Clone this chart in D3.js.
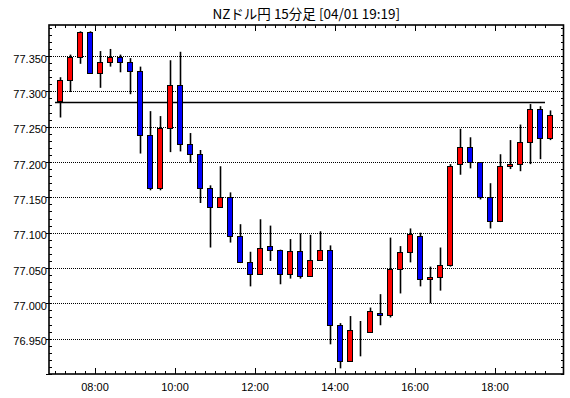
<!DOCTYPE html>
<html><head><meta charset="utf-8">
<script src="https://cdn.jsdelivr.net/npm/d3@7"></script>
<style>body{margin:0;background:#fff}svg{display:block}</style>
</head><body>
<script>
const title = "NZドル円 15分足 [04/01 19:19]";
const times = ["07:00","07:15","07:30","07:45","08:00","08:15","08:30","08:45","09:00","09:15",
"09:30","09:45","10:00","10:15","10:30","10:45","11:00","11:15","11:30","11:45",
"12:00","12:15","12:30","12:45","13:00","13:15","13:30","13:45","14:00","14:15",
"14:30","14:45","15:00","15:15","15:30","15:45","16:00","16:15","16:30","16:45",
"17:00","17:15","17:30","17:45","18:00","18:15","18:30","18:45","19:00","19:15"];
const open  = [77.286,77.316,77.348,77.384,77.326,77.341,77.348,77.342,77.329,77.238,
77.163,77.248,77.309,77.226,77.211,77.163,77.136,77.151,77.095,77.059,
77.041,77.081,77.075,77.042,77.074,77.038,77.062,77.075,76.969,76.919,
76.960,76.960,76.987,76.983,77.048,77.072,77.096,77.034,77.037,77.054,
77.197,77.221,77.200,77.150,77.116,77.194,77.197,77.229,77.275,77.234];
const high  = [77.320,77.352,77.385,77.385,77.357,77.360,77.352,77.347,77.335,77.272,
77.265,77.344,77.356,77.241,77.217,77.167,77.194,77.157,77.112,77.073,
77.119,77.110,77.076,77.091,77.099,77.097,77.102,77.082,76.972,76.982,
76.975,76.994,77.013,77.093,77.081,77.106,77.100,77.052,77.079,77.197,
77.247,77.235,77.200,77.170,77.211,77.231,77.253,77.282,77.279,77.273];
const low   = [77.263,77.299,77.339,77.325,77.305,77.335,77.327,77.296,77.212,77.160,
77.160,77.214,77.215,77.199,77.142,77.079,77.136,77.086,77.057,77.024,
77.041,77.060,77.027,77.035,77.035,77.038,77.062,76.942,76.908,76.918,
76.925,76.960,76.969,76.980,77.014,77.058,77.024,77.000,77.018,77.052,
77.182,77.191,77.147,77.106,77.115,77.190,77.187,77.197,77.204,77.231];
const close = [77.316,77.348,77.384,77.326,77.341,77.348,77.342,77.329,77.238,77.163,
77.248,77.309,77.226,77.211,77.163,77.136,77.151,77.095,77.059,77.041,
77.079,77.075,77.042,77.074,77.038,77.062,77.075,76.969,76.919,76.962,
76.960,76.989,76.983,77.048,77.072,77.098,77.034,77.037,77.054,77.195,
77.221,77.200,77.150,77.116,77.194,77.197,77.229,77.275,77.234,77.266];
const yTickLabels = ["76.950","77.000","77.050","77.100","77.150","77.200","77.250","77.300","77.350"];
const xTickLabels = ["08:00","10:00","12:00","14:00","16:00","18:00"];
const refLevel = 77.285;

const W = 570, H = 398;
const L = 49, R = 563.5, T = 25, B = 374;
const parse = d3.timeParse("%H:%M");
const x = d3.scaleTime().domain([parse("08:00"), parse("18:00")]).range([95, 495]);
const y = d3.scaleLinear().domain([76.9, 77.3939]).range([B, T]);
const svg = d3.select("body").append("svg").attr("width", W).attr("height", H);

const data = times.map((t, i) => ({t: parse(t), o: open[i], h: high[i], l: low[i], c: close[i]}));
const mid = d => x(new Date(d.t.getTime() + 7.5 * 60000));

// grid
const grid = svg.append("g");
yTickLabels.forEach(v => {
  const yy = Math.round(y(+v)) + 0.5;
  grid.append("line").attr("x1", L).attr("x2", R).attr("y1", yy).attr("y2", yy)
    .attr("stroke", "#000").attr("stroke-width", 1).attr("stroke-dasharray", "1,1")
    .attr("shape-rendering", "crispEdges");
});

// reference line
const ry = Math.round(y(refLevel)) + 0.5;
svg.append("line").attr("x1", x(parse("07:00"))).attr("x2", x(parse("19:15")))
  .attr("y1", ry).attr("y2", ry).attr("stroke", "#000").attr("stroke-width", 1.3);

// candles
const cg = svg.append("g");
data.forEach(d => {
  const cx = Math.round(mid(d));
  cg.append("line").attr("x1", cx + 0.5).attr("x2", cx + 0.5)
    .attr("y1", y(d.h)).attr("y2", y(d.l)).attr("stroke", "#000").attr("stroke-width", 1.6);
  const top = Math.round(y(Math.max(d.o, d.c))), bot = Math.round(y(Math.min(d.o, d.c)));
  cg.append("rect").attr("x", cx - 2.5).attr("width", 5)
    .attr("y", top + 0.5).attr("height", Math.max(0, bot - top))
    .attr("fill", d.c >= d.o ? "#ff0000" : "#0000ff")
    .attr("stroke", "#000").attr("stroke-width", 1).attr("shape-rendering", "crispEdges");
});

// frame
svg.append("rect").attr("x", L).attr("y", T).attr("width", R - L).attr("height", B - T)
  .attr("fill", "none").attr("stroke", "#000").attr("stroke-width", 1.6);

// x ticks (15 minute)
const xt = d3.timeMinute.every(15).range(parse("07:00"), parse("19:16"));
const tg = svg.append("g").attr("stroke", "#000").attr("stroke-width", 1).attr("shape-rendering", "crispEdges");
xt.forEach(t => {
  const xx = Math.round(x(t)) + 0.5;
  const major = t.getMinutes() === 0 && t.getHours() % 2 === 0;
  const len = major ? 6 : 3;
  tg.append("line").attr("x1", xx).attr("x2", xx).attr("y1", B).attr("y2", B - len);
  tg.append("line").attr("x1", xx).attr("x2", xx).attr("y1", T).attr("y2", T + len);
});
// y ticks (0.01)
d3.range(76.90, 77.395, 0.01).forEach(v => {
  const yy = Math.round(y(v)) + 0.5;
  const major = Math.abs(Math.round(v * 100) % 5) === 0;
  tg.append("line").attr("x1", major ? L - 3 : L).attr("x2", L + 3).attr("y1", yy).attr("y2", yy);
  tg.append("line").attr("x1", R).attr("x2", R - 3).attr("y1", yy).attr("y2", yy);
});

// labels
svg.append("g").selectAll("text").data(yTickLabels).join("text")
  .attr("x", L - 2).attr("y", v => y(+v) + 6.5).attr("text-anchor", "end")
  .attr("font-family", "Liberation Sans, Arial, sans-serif").attr("font-size", 11).text(v => v);
svg.append("g").selectAll("text").data(xTickLabels).join("text")
  .attr("x", v => x(parse(v))).attr("y", 391).attr("text-anchor", "middle")
  .attr("font-family", "Liberation Sans, Arial, sans-serif").attr("font-size", 11).text(v => v);
svg.append("text").attr("x", (L + R) / 2).attr("y", 19).attr("text-anchor", "middle")
  .attr("font-family", "Noto Sans CJK JP, sans-serif").attr("font-size", 13.5).text(title);
</script>
</body></html>
